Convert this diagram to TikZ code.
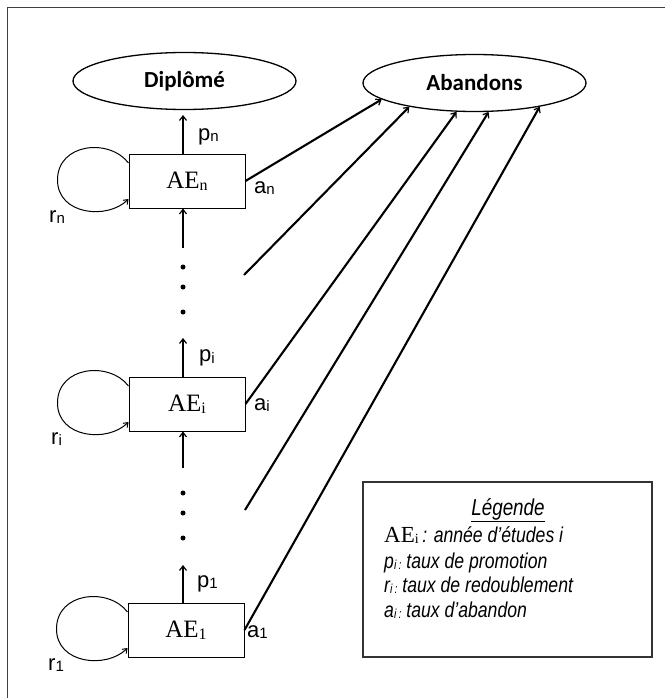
\documentclass[tikz,border=0pt]{standalone}
\usepackage{fontspec}
\setmainfont{Liberation Serif}
\newfontfamily\arialf{Liberation Sans}
\newfontfamily\narrowf[FakeStretch=0.82]{Liberation Sans}
\newfontfamily\calibf{Carlito}
\usetikzlibrary{shapes.geometric,arrows.meta,calc}
\newcommand{\lsub}[1]{\raisebox{-1.5pt}{\fontsize{15}{15}\selectfont #1}}
\newcommand{\gsub}[1]{\raisebox{-1.5pt}{\fontsize{13}{13}\selectfont #1}}
\newcommand{\tsub}[1]{\raisebox{-2pt}{\fontsize{16}{16}\selectfont #1}}
\begin{document}
\begin{tikzpicture}[x=1pt,y=-1pt,
  ell/.style={ellipse,draw,line width=1.3pt,minimum width=223pt,minimum height=57pt,inner sep=0pt,font=\calibf\bfseries\fontsize{23}{23}\selectfont},
  aebox/.style={rectangle,draw,line width=1pt,minimum width=116pt,minimum height=54pt,inner sep=0pt,font=\fontsize{25}{25}\selectfont},
  flow/.style={line width=2.1pt,-{Straight Barb[length=4.5pt,width=7pt,line width=1.2pt]}},
  loopar/.style={line width=1pt,-{Straight Barb[length=4pt,width=6pt,line width=1pt]}},
  lbl/.style={anchor=base west,inner sep=0pt,font=\arialf\fontsize{22}{22}\selectfont},
  legtxt/.style={anchor=base west,inner sep=0pt,font=\narrowf\itshape\fontsize{21.5}{21.5}\selectfont},
  dotc/.style={circle,fill,inner sep=0pt,minimum size=5pt},
  frameline/.style={draw=black!75,line width=1.4pt}
]
\useasboundingbox (0,0) rectangle (665,698);
\draw[frameline] (7.5,698) -- (7.5,7.5) -- (665,7.5);

% top ellipses
\node[ell] (dip) at (184.5,81) {Diplômé};
\node[ell] (ab) at (474.5,83) {Abandons};

% year boxes
\node[aebox] (aen) at (187,181) {AE\tsub{n}};
\node[aebox] (aei) at (187,404) {AE\tsub{i}};
\node[aebox] (ae1) at (186,630) {AE\tsub{1}};

% column coordinate and free ends
\coordinate (colx) at (183,0);
\coordinate (inn) at (183,248);
\coordinate (ini) at (183,468);
\coordinate (tipn) at (183,115);
\coordinate (tipi) at (183,338);
\coordinate (tip1) at (183,565);
\coordinate (s2) at (244,275);
\coordinate (s4) at (245,510);

% dots
\foreach \y [count=\k] in {267,287,312} \node[dotc] (du\k) at (183,\y) {};
\foreach \y [count=\k] in {493,513,538} \node[dotc] (dl\k) at (183,\y) {};

% promotion arrows
\draw[flow] (aen.north -| colx) -- (tipn);
\draw[flow] (inn) -- (aen.south -| colx);
\draw[flow] (aei.north -| colx) -- (tipi);
\draw[flow] (ini) -- (aei.south -| colx);
\draw[flow] (ae1.north -| colx) -- (tip1);

% dropout arrows
\draw[flow] (aen.east) -- (ab.190);
\draw[flow] (s2) -- (ab.200);
\draw[flow] (aei.east) -- (ab.238);
\draw[flow] (s4) -- (ab.296);
\draw[flow] (ae1.east) -- (ab.340);

% repetition loops
\foreach \b in {aen,aei,ae1}{
  \draw[loopar] ($(\b.west)+(0,-18)$) .. controls ($(\b.west)+(-19,-43)$) and ($(\b.west)+(-71,-38)$) .. ($(\b.west)+(-71,-1)$)
    .. controls ($(\b.west)+(-71,34)$) and ($(\b.west)+(-21,39)$) .. ($(\b.west)+(0,18)$);
}

% labels
\node[lbl] (pn) at (198,140) {p\lsub{n}};
\node[lbl] (pi) at (199,361.5) {p\lsub{i}};
\node[lbl] (p1) at (197,587) {p\lsub{1}};
\node[lbl] (an) at (254,193) {a\lsub{n}};
\node[lbl] (ai) at (254,410) {a\lsub{i}};
\node[lbl] (a1) at (247,637) {a\lsub{1}};
\node[lbl] (rn) at (49,222) {r\lsub{n}};
\node[lbl] (ri) at (51,444) {r\lsub{i}};
\node[lbl] (r1) at (48,670) {r\lsub{1}};

% legend
\node[draw=black!80,line width=1.2pt,minimum width=289pt,minimum height=175pt,inner sep=0pt] (leg) at (507.5,569.5) {};
\node[anchor=base,inner sep=0pt,font=\narrowf\itshape\fontsize{23}{23}\selectfont] (legt) at (508,515) {\underline{Légende}};
\node[legtxt] (l1) at (384,542) {{\rmfamily\upshape\fontsize{23}{23}\selectfont AE\raisebox{-1.5pt}{\fontsize{14}{14}\selectfont i}}\,: année d’études i};
\node[legtxt] (l2) at (384,568) {p\gsub{i\,:} taux de promotion};
\node[legtxt] (l3) at (384,592) {r\gsub{i\,:} taux de redoublement};
\node[legtxt] (l4) at (384,617) {a\gsub{i\,:} taux d’abandon};
\end{tikzpicture}
\end{document}
